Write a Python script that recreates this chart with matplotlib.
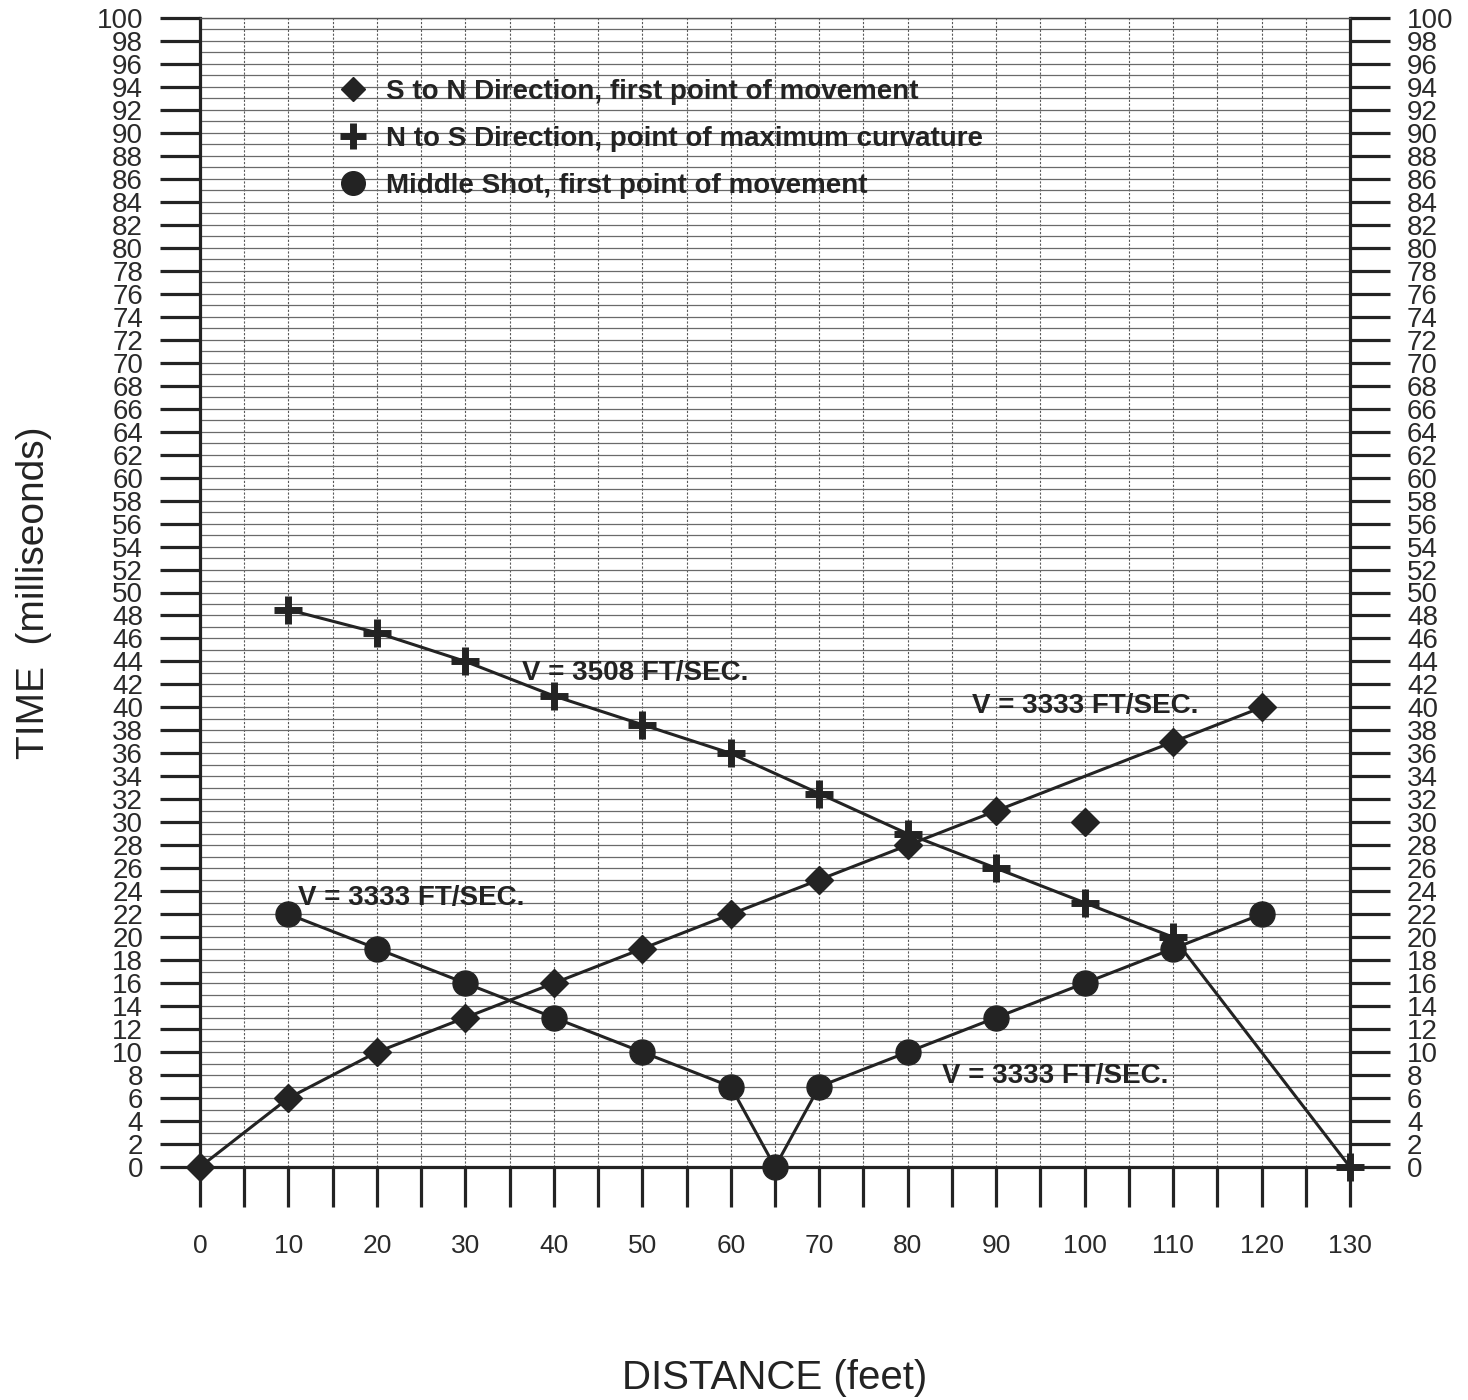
import numpy as np
import matplotlib
matplotlib.use("Agg")
import matplotlib.pyplot as plt
from matplotlib.lines import Line2D
from matplotlib.ticker import MultipleLocator

# S to N direction, first point of movement (the point at 100 ft sits off the line)
sn_dist = [0, 10, 20, 30, 40, 50, 60, 70, 80, 90, 110, 120]
sn_time = [0, 6, 10, 13, 16, 19, 22, 25, 28, 31, 37, 40]
sn_extra_dist = [100]
sn_extra_time = [30]

# N to S direction, point of maximum curvature
ns_dist = [10, 20, 30, 40, 50, 60, 70, 80, 90, 100, 110, 130]
ns_time = [48.5, 46.5, 44, 41, 38.5, 36, 32.5, 29, 26, 23, 20, 0]

# middle shot, first point of movement
mid_dist = [10, 20, 30, 40, 50, 60, 65, 70, 80, 90, 100, 110, 120]
mid_time = [22, 19, 16, 13, 10, 7, 0, 7, 10, 13, 16, 19, 22]

# velocity notes: (text, distance, time)
notes = [
    ("V = 3508 FT/SEC.", 36.4, 43.0),
    ("V = 3333 FT/SEC.", 87.3, 40.1),
    ("V = 3333 FT/SEC.", 11.1, 23.4),
    ("V = 3333 FT/SEC.", 83.9, 7.9),
]

legend_labels = [
    "S to N Direction, first point of movement",
    "N to S Direction, point of maximum curvature",
    "Middle Shot, first point of movement",
]

ink = "#232323"
fig = plt.figure(figsize=(14.68, 14.0), dpi=100)
ax = fig.add_axes([200 / 1468, 1 - 1167 / 1400, 1150 / 1468, 1149 / 1400])

ax.set_xlim(0, 130)
ax.set_ylim(0, 100)

# graph paper grid
ax.xaxis.set_major_locator(MultipleLocator(10))
ax.xaxis.set_minor_locator(MultipleLocator(5))
ax.yaxis.set_major_locator(MultipleLocator(2))
ax.yaxis.set_minor_locator(MultipleLocator(1))
ax.grid(True, which="both", axis="y", color="#6a6a6a", lw=0.9)
ax.grid(True, which="both", axis="x", color="#5a5a5a", lw=0.8, ls=(0, (2, 1.5)))
ax.set_axisbelow(True)

for side in ("left", "bottom", "right"):
    ax.spines[side].set_linewidth(2.3)
    ax.spines[side].set_color(ink)
ax.spines["top"].set_linewidth(1.0)
ax.spines["top"].set_color("#555555")

ax.tick_params(axis="x", which="both", direction="out", length=29, width=2.3,
               color=ink, pad=19, labelsize=19, labelcolor="#2a2a2a")
ax.tick_params(axis="y", which="major", direction="out", length=29, width=2.3,
               color=ink, pad=12, labelsize=20, labelcolor="#2a2a2a",
               left=True, right=True, labelleft=True, labelright=True)
ax.tick_params(axis="y", which="minor", length=0)
for lab in ax.get_yticklabels() + ax.get_xticklabels():
    lab.set_fontfamily("Liberation Sans")

lw = 2.2
ax.plot(sn_dist, sn_time, color=ink, lw=lw, marker="D", ms=14, zorder=3, clip_on=False)
ax.plot(sn_extra_dist, sn_extra_time, ls="none", color=ink, marker="D", ms=14, zorder=3)
ax.plot(ns_dist, ns_time, color=ink, lw=lw, marker="+", ms=20, mew=5, zorder=4, clip_on=False)
ax.plot(mid_dist, mid_time, color=ink, lw=lw, marker="o", ms=18, zorder=3, clip_on=False)

for txt, x, y in notes:
    ax.text(x, y, txt, fontsize=20, fontweight="bold", family="Liberation Sans",
            color=ink, va="center", ha="left", zorder=5)

handles = [
    Line2D([], [], ls="none", color=ink, marker="D", ms=12),
    Line2D([], [], ls="none", color=ink, marker="+", ms=19, mew=5),
    Line2D([], [], ls="none", color=ink, marker="o", ms=17),
]
leg = ax.legend(handles, legend_labels, loc="upper left", bbox_to_anchor=(0.121, 0.947),
                frameon=False, handlelength=1.0, handletextpad=0.7, labelspacing=0.76,
                borderpad=0, borderaxespad=0,
                prop={"family": "Liberation Sans", "weight": "bold", "size": 20})
for t in leg.get_texts():
    t.set_color(ink)

fig.text(775 / 1468, 1 - 1378 / 1400, "DISTANCE (feet)", fontsize=29,
         family="Liberation Sans", color=ink, ha="center", va="center")
ax.set_ylabel("TIME  (milliseonds)", fontsize=28, family="Liberation Sans",
              color=ink, labelpad=32)

fig.savefig("out.png", dpi=100)
